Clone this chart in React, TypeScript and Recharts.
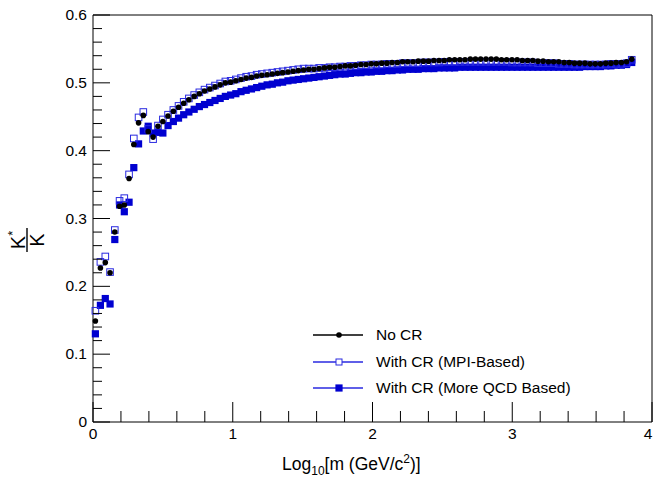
import { ScatterChart, Scatter, XAxis, YAxis } from 'recharts';

const FONT = '"Liberation Sans", Arial, Helvetica, sans-serif';
const BLUE = '#0000d0';
const BLUE_OPEN = '#2a2ae0';

// log10 of mass, one entry per point (shared by all three series)
const xs = [
  0.017, 0.053, 0.088, 0.122, 0.156, 0.19, 0.224, 0.258, 0.292, 0.326, 0.36, 0.395, 0.43, 0.465,
  0.5, 0.537, 0.575, 0.612, 0.649, 0.686, 0.724, 0.761, 0.798, 0.836,
  0.873, 0.91, 0.947, 0.985, 1.022, 1.059, 1.096, 1.134, 1.171, 1.208,
  1.246, 1.283, 1.32, 1.357, 1.395, 1.432, 1.469, 1.507, 1.544, 1.581,
  1.618, 1.656, 1.693, 1.73, 1.768, 1.805, 1.842, 1.879, 1.917, 1.954,
  1.991, 2.028, 2.066, 2.103, 2.14, 2.178, 2.215, 2.252, 2.29, 2.327,
  2.364, 2.401, 2.439, 2.476, 2.513, 2.55, 2.588, 2.625, 2.662, 2.7,
  2.737, 2.774, 2.812, 2.849, 2.886, 2.923, 2.96, 2.998, 3.035, 3.072,
  3.11, 3.147, 3.184, 3.221, 3.259, 3.296, 3.333, 3.371, 3.408, 3.445,
  3.482, 3.52, 3.557, 3.594, 3.631, 3.669, 3.706, 3.743, 3.781, 3.818,
  3.855,
];

// K*/K, No CR
const noCR = [
  0.149, 0.227, 0.235, 0.22, 0.28, 0.318, 0.32, 0.359, 0.409, 0.441, 0.452, 0.428, 0.42, 0.436,
  0.443, 0.451, 0.458, 0.464, 0.47, 0.475, 0.48, 0.484, 0.488, 0.491,
  0.494, 0.497, 0.5, 0.501, 0.503, 0.505, 0.507, 0.508, 0.51, 0.511,
  0.512, 0.513, 0.514, 0.515, 0.516, 0.517, 0.518, 0.519, 0.52, 0.52,
  0.521, 0.522, 0.523, 0.523, 0.524, 0.525, 0.525, 0.526, 0.527, 0.527,
  0.528, 0.528, 0.529, 0.529, 0.53, 0.53, 0.531, 0.531, 0.531, 0.532,
  0.532, 0.532, 0.533, 0.533, 0.533, 0.534, 0.534, 0.534, 0.534, 0.535,
  0.535, 0.535, 0.535, 0.535, 0.535, 0.534, 0.534, 0.534, 0.534, 0.533,
  0.533, 0.533, 0.532, 0.532, 0.531, 0.531, 0.531, 0.53, 0.53, 0.529,
  0.529, 0.529, 0.528, 0.528, 0.528, 0.529, 0.529, 0.53, 0.53, 0.531,
  0.535,
];

// K*/K, With CR (MPI-Based)
const mpiCR = [
  0.164, 0.236, 0.244, 0.221, 0.283, 0.326, 0.33, 0.365, 0.418, 0.449, 0.457, 0.432, 0.417, 0.437,
  0.446, 0.453, 0.46, 0.466, 0.472, 0.477, 0.482, 0.486, 0.49, 0.493,
  0.496, 0.499, 0.502, 0.503, 0.505, 0.507, 0.509, 0.51, 0.512, 0.513,
  0.514, 0.515, 0.516, 0.517, 0.518, 0.519, 0.52, 0.521, 0.521, 0.521,
  0.522, 0.522, 0.523, 0.523, 0.524, 0.524, 0.525, 0.525, 0.526, 0.526,
  0.527, 0.527, 0.527, 0.528, 0.528, 0.528, 0.529, 0.529, 0.529, 0.529,
  0.53, 0.53, 0.53, 0.53, 0.531, 0.531, 0.531, 0.531, 0.531, 0.531,
  0.531, 0.531, 0.531, 0.531, 0.531, 0.531, 0.531, 0.53, 0.53, 0.53,
  0.53, 0.53, 0.529, 0.529, 0.529, 0.529, 0.528, 0.528, 0.528, 0.527,
  0.527, 0.527, 0.527, 0.527, 0.527, 0.527, 0.528, 0.528, 0.528, 0.529,
  0.534,
];

// K*/K, With CR (More QCD Based)
const qcdCR = [
  0.13, 0.172, 0.182, 0.174, 0.269, 0.32, 0.31, 0.324, 0.375, 0.41, 0.429, 0.436, 0.426, 0.427,
  0.426, 0.437, 0.443, 0.448, 0.453, 0.457, 0.461, 0.465, 0.468, 0.471,
  0.474, 0.477, 0.48, 0.482, 0.484, 0.487, 0.489, 0.491, 0.493, 0.495,
  0.497, 0.498, 0.5, 0.501, 0.503, 0.504, 0.505, 0.506, 0.507, 0.508,
  0.509, 0.51, 0.511, 0.512, 0.513, 0.513, 0.514, 0.515, 0.515, 0.516,
  0.516, 0.517, 0.517, 0.518, 0.518, 0.519, 0.519, 0.52, 0.52, 0.52,
  0.521, 0.521, 0.521, 0.522, 0.522, 0.522, 0.522, 0.523, 0.523, 0.523,
  0.523, 0.523, 0.523, 0.523, 0.523, 0.523, 0.523, 0.523, 0.523, 0.523,
  0.523, 0.523, 0.523, 0.523, 0.523, 0.523, 0.523, 0.523, 0.523, 0.523,
  0.523, 0.524, 0.524, 0.524, 0.524, 0.525, 0.525, 0.526, 0.526, 0.527,
  0.53,
];

const xTicks = Array.from({ length: 21 }, (_, k) => k / 5);
const yTicks = Array.from({ length: 31 }, (_, k) => k / 50);

const legendItems = [
  { label: 'No CR', kind: 'circle' },
  { label: 'With CR (MPI-Based)', kind: 'open' },
  { label: 'With CR (More QCD Based)', kind: 'filled' },
];

const toPoints = (ys: number[]) => xs.map((x, i) => ({ x, y: ys[i] }));

const isMajor = (v: number, per: number) => Math.abs(v * per - Math.round(v * per)) < 1e-6;

const BottomTick = ({ x, y, payload }: any) => {
  const v = payload.value;
  const major = isMajor(v, 1);
  // last label sits on the right edge; nudge it so it stays on the page
  const tx = v === 4 ? x - 4 : x;
  return (
    <g>
      <line x1={x} x2={x} y1={y} y2={y - (major ? 20 : 11)} stroke="#000" />
      {major && (
        <text x={tx} y={y + 17} textAnchor="middle" fontSize={15.5} fontFamily={FONT} fill="#000">
          {v}
        </text>
      )}
    </g>
  );
};

const TopTick = ({ x, y, payload }: any) => {
  const major = isMajor(payload.value, 1);
  return <line x1={x} x2={x} y1={y} y2={y + (major ? 20 : 11)} stroke="#000" />;
};

const LeftTick = ({ x, y, payload }: any) => {
  const v = payload.value;
  const major = isMajor(v, 10);
  return (
    <g>
      <line x1={x} x2={x + (major ? 17 : 9)} y1={y} y2={y} stroke="#000" />
      {major && (
        <text x={x - 6} y={y + 5} textAnchor="end" fontSize={15.5} fontFamily={FONT} fill="#000">
          {v === 0 ? '0' : v.toFixed(1)}
        </text>
      )}
    </g>
  );
};

const RightTick = ({ x, y, payload }: any) => {
  const major = isMajor(payload.value, 10);
  return <line x1={x} x2={x - (major ? 17 : 9)} y1={y} y2={y} stroke="#000" />;
};

const XTitle = () => (
  <text x={282} y={470} fontSize={17.5} fontFamily={FONT} fill="#000">
    Log
    <tspan fontSize={12} dy={5}>10</tspan>
    <tspan fontSize={17.5} dy={-5}>[m (GeV/c</tspan>
    <tspan fontSize={12} dy={-7}>2</tspan>
    <tspan fontSize={17.5} dy={7}>)]</tspan>
  </text>
);

const YTitle = () => (
  <g transform="translate(27,240) rotate(-90)" fontFamily={FONT} fill="#000">
    <text x={0} y={-2.5} textAnchor="middle" fontSize={20}>
      K<tspan fontSize={13} dy={-8}>*</tspan>
    </text>
    <line x1={-12} x2={12} y1={0} y2={0} stroke="#000" strokeWidth={1.4} />
    <text x={0} y={17} textAnchor="middle" fontSize={20}>K</text>
  </g>
);

const Marker = ({ kind, cx, cy }: { kind: string; cx: number; cy: number }) => {
  if (kind === 'circle') return <circle cx={cx} cy={cy} r={2.8} fill="#000" />;
  if (kind === 'open')
    return <rect x={cx - 3.3} y={cy - 3.3} width={6.6} height={6.6} fill="none" stroke={BLUE_OPEN} strokeWidth={1} />;
  return <rect x={cx - 3.6} y={cy - 3.6} width={7.2} height={7.2} fill={BLUE} />;
};

const LegendBox = () => (
  <div style={{ position: 'absolute', left: 306, top: 322, fontFamily: FONT, fontSize: 15.5, color: '#000' }}>
    {legendItems.map((it) => (
      <div key={it.label} style={{ display: 'flex', alignItems: 'center', height: 26.6 }}>
        <svg width={70} height={14} style={{ flex: 'none' }}>
          <line x1={7} x2={57} y1={7} y2={7} stroke={it.kind === 'circle' ? '#000' : BLUE_OPEN} strokeWidth={1.6} />
          {it.kind === 'open' ? (
            <rect x={30} y={4} width={6} height={6} fill="#fff" stroke={BLUE_OPEN} strokeWidth={1} />
          ) : (
            <Marker kind={it.kind} cx={33} cy={7} />
          )}
        </svg>
        <span style={{ whiteSpace: 'nowrap' }}>{it.label}</span>
      </div>
    ))}
  </div>
);

export default function App() {
  return (
    <div style={{ position: 'absolute', left: 0, top: 0, width: 654, height: 480, background: '#fff' }}>
      <ScatterChart width={654} height={480} margin={{ top: 14, right: 1, bottom: 57, left: 92 }}>
        <XAxis
          dataKey="x"
          type="number"
          domain={[0, 4]}
          ticks={xTicks}
          interval={0}
          height={1}
          tickSize={0}
          tickMargin={0}
          tickLine={false}
          axisLine={{ stroke: '#000' }}
          tick={<BottomTick />}
          label={{ content: () => <XTitle /> }}
        />
        <XAxis
          xAxisId="top"
          orientation="top"
          type="number"
          domain={[0, 4]}
          ticks={xTicks}
          interval={0}
          height={1}
          tickSize={0}
          tickMargin={0}
          tickLine={false}
          axisLine={{ stroke: '#000' }}
          tick={<TopTick />}
        />
        <YAxis
          dataKey="y"
          type="number"
          domain={[0, 0.6]}
          ticks={yTicks}
          interval={0}
          width={1}
          tickSize={0}
          tickMargin={0}
          tickLine={false}
          axisLine={{ stroke: '#000' }}
          tick={<LeftTick />}
          label={{ content: () => <YTitle /> }}
        />
        <YAxis
          yAxisId="right"
          orientation="right"
          type="number"
          domain={[0, 0.6]}
          ticks={yTicks}
          interval={0}
          width={1}
          tickSize={0}
          tickMargin={0}
          tickLine={false}
          axisLine={{ stroke: '#000' }}
          tick={<RightTick />}
        />
        <Scatter
          name="With CR (More QCD Based)"
          data={toPoints(qcdCR)}
          isAnimationActive={false}
          shape={(p: any) => <Marker kind="filled" cx={p.cx} cy={p.cy} />}
        />
        <Scatter
          name="With CR (MPI-Based)"
          data={toPoints(mpiCR)}
          isAnimationActive={false}
          shape={(p: any) => <Marker kind="open" cx={p.cx} cy={p.cy} />}
        />
        <Scatter
          name="No CR"
          data={toPoints(noCR)}
          isAnimationActive={false}
          shape={(p: any) => <Marker kind="circle" cx={p.cx} cy={p.cy} />}
        />
      </ScatterChart>
      <LegendBox />
    </div>
  );
}
